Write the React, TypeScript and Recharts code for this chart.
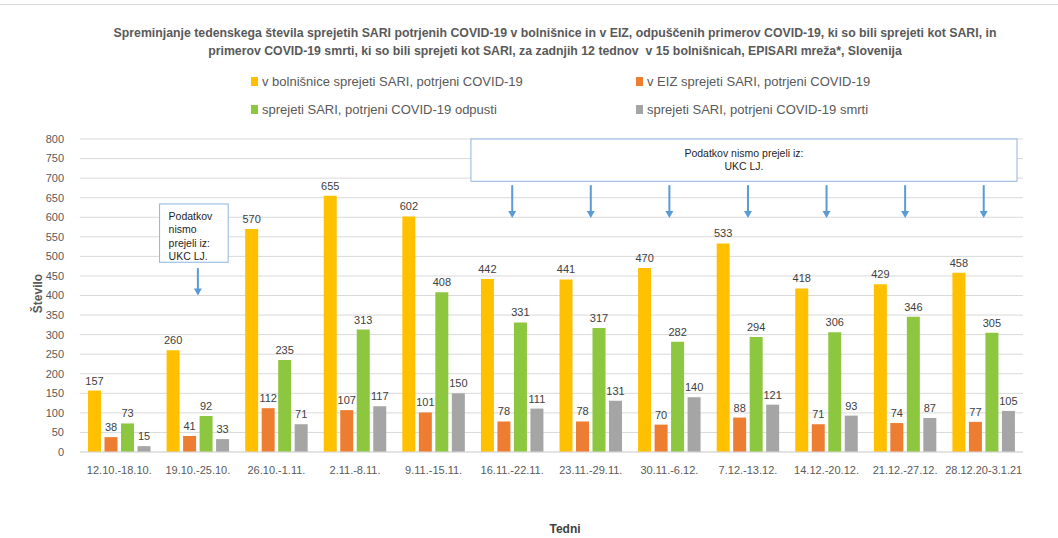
import React from 'react';
import {
  BarChart, Bar, XAxis, YAxis, CartesianGrid, LabelList,
  ReferenceArea, ReferenceLine, ReferenceDot,
} from 'recharts';

const categories = [
  '12.10.-18.10.', '19.10.-25.10.', '26.10.-1.11.', '2.11.-8.11.', '9.11.-15.11.',
  '16.11.-22.11.', '23.11.-29.11.', '30.11.-6.12.', '7.12.-13.12.', '14.12.-20.12.',
  '21.12.-27.12.', '28.12.20-3.1.21',
];
const hospitalAdmitted = [157, 260, 570, 655, 602, 442, 441, 470, 533, 418, 429, 458];
const icuAdmitted = [38, 41, 112, 107, 101, 78, 78, 70, 88, 71, 74, 77];
const discharged = [73, 92, 235, 313, 408, 331, 317, 282, 294, 306, 346, 305];
const deaths = [15, 33, 71, 117, 150, 111, 131, 140, 121, 93, 87, 105];
const yTicks = [0, 50, 100, 150, 200, 250, 300, 350, 400, 450, 500, 550, 600, 650, 700, 750, 800];

const seriesNames = [
  'v bolnišnice sprejeti SARI, potrjeni COVID-19',
  'v EIZ sprejeti SARI, potrjeni COVID-19',
  'sprejeti SARI, potrjeni COVID-19 odpusti',
  'sprejeti SARI, potrjeni COVID-19 smrti',
];
const colors = ['#FFC000', '#ED7D31', '#8DC63F', '#A5A5A5'];
const keys = ['hosp', 'icu', 'disch', 'death'];

const data = categories.map((c, i) => ({
  week: c,
  hosp: hospitalAdmitted[i],
  icu: icuAdmitted[i],
  disch: discharged[i],
  death: deaths[i],
}));

const missingWeeksSingle = [categories[1]];
const missingWeeksRange = categories.slice(5);

const FONT = "'Liberation Sans', Arial, sans-serif";
const ARROW = '#5B9BD5';

const ArrowHead = (props: any) => {
  const { cx, cy } = props;
  return <path d={`M${cx - 4},${cy - 7} L${cx + 4},${cy - 7} L${cx},${cy} Z`} fill={ARROW} />;
};

const SmallBox = (props: any) => {
  const { x, y, width, height } = props;
  const w = width - 10;
  return (
    <g>
      <rect x={x + 1} y={y} width={w} height={height} fill="#fff" stroke="#8EB4E3" strokeWidth={1} />
      {['Podatkov', 'nismo', 'prejeli iz:', 'UKC LJ.'].map((t, i) => (
        <text key={i} x={x + 10} y={y + 16 + i * 13.3} fontSize={10.5} fill="#262626" fontFamily={FONT}>{t}</text>
      ))}
    </g>
  );
};

const WideBox = (props: any) => {
  const { x, y, width, height } = props;
  const cx = x + width / 2 - 4;
  return (
    <g>
      <rect x={x - 2} y={y} width={width - 4} height={height} fill="#fff" stroke="#8EB4E3" strokeWidth={1} />
      <text x={cx} y={y + 18} textAnchor="middle" fontSize={10.5} fill="#262626" fontFamily={FONT}>Podatkov nismo prejeli iz:</text>
      <text x={cx} y={y + 31} textAnchor="middle" fontSize={10.5} fill="#262626" fontFamily={FONT}>UKC LJ.</text>
    </g>
  );
};

const legendPos = [
  { left: 251, top: 81 },
  { left: 636, top: 81 },
  { left: 251, top: 109 },
  { left: 636, top: 109 },
];

const YLabel = (props: any) => {
  const { viewBox } = props;
  const cx = 38;
  const cy = viewBox.y + viewBox.height / 2 - 2;
  return (
    <text x={cx} y={cy} transform={`rotate(-90 ${cx} ${cy})`} textAnchor="middle" dominantBaseline="central" fontSize={12} fontWeight="bold" fill="#595959" fontFamily={FONT}>Število</text>
  );
};

const XLabel = () => (
  <text x={565} y={529} textAnchor="middle" dominantBaseline="central" fontSize={12} fontWeight="bold" fill="#404040" fontFamily={FONT}>Tedni</text>
);

export default function App() {
  return (
    <div style={{ position: 'absolute', left: 0, top: 0, width: 1058, height: 538, background: '#fff', fontFamily: FONT }}>
      <div style={{ position: 'absolute', left: 0, top: 4, width: 1058, height: 1, background: '#D9D9D9' }} />
      <BarChart
        width={1058}
        height={538}
        data={data}
        margin={{ top: 139, right: 35, bottom: 56, left: 20 }}
        barCategoryGap="10%"
        barGap={3.5}
        barSize={13}
      >
        <CartesianGrid vertical={false} stroke="#D9D9D9" />
        <XAxis
          dataKey="week"
          tickLine={false}
          axisLine={{ stroke: '#D9D9D9' }}
          tick={{ fontSize: 11, fill: '#595959', fontFamily: FONT }}
          tickMargin={8}
          interval={0}
          label={<XLabel />}
        />
        <YAxis
          width={60}
          domain={[0, 800]}
          ticks={yTicks}
          interval={0}
          tickLine={false}
          axisLine={false}
          tick={{ fontSize: 11, fill: '#595959', fontFamily: FONT }}
          tickMargin={10}
          label={<YLabel />}
        />
        {keys.map((k, i) => (
          <Bar key={k} dataKey={k} name={seriesNames[i]} fill={colors[i]} isAnimationActive={false}>
            <LabelList dataKey={k} position="top" offset={6} fontSize={11} fill="#404040" fontFamily={FONT} />
          </Bar>
        ))}
        {missingWeeksSingle.map((c) => (
          <ReferenceArea key={'a' + c} x1={c} x2={c} y1={485} y2={634} shape={<SmallBox />} ifOverflow="visible" />
        ))}
        <ReferenceArea x1={missingWeeksRange[0]} x2={missingWeeksRange[missingWeeksRange.length - 1]} y1={692} y2={800} shape={<WideBox />} ifOverflow="visible" />
        {missingWeeksSingle.map((c) => (
          <ReferenceLine key={'l' + c} segment={[{ x: c, y: 470 }, { x: c, y: 412 }]} stroke={ARROW} strokeWidth={2} ifOverflow="visible" />
        ))}
        {missingWeeksSingle.map((c) => (
          <ReferenceDot key={'d' + c} x={c} y={400} shape={<ArrowHead />} ifOverflow="visible" />
        ))}
        {missingWeeksRange.map((c) => (
          <ReferenceLine key={'l' + c} segment={[{ x: c, y: 682 }, { x: c, y: 612 }]} stroke={ARROW} strokeWidth={2} ifOverflow="visible" />
        ))}
        {missingWeeksRange.map((c) => (
          <ReferenceDot key={'d' + c} x={c} y={598} shape={<ArrowHead />} ifOverflow="visible" />
        ))}
      </BarChart>
      <div style={{ position: 'absolute', left: 55, top: 24, width: 1000, textAlign: 'center', fontSize: 12.3, fontWeight: 'bold', color: '#595959', lineHeight: '18px', whiteSpace: 'nowrap' }}>
        Spreminjanje tedenskega števila sprejetih SARI potrjenih COVID-19 v bolnišnice in v EIZ, odpuščenih primerov COVID-19, ki so bili sprejeti kot SARI, in<br />
        primerov COVID-19 smrti, ki so bili sprejeti kot SARI, za zadnjih 12 tednov&nbsp; v 15 bolnišnicah, EPISARI mreža*, Slovenija
      </div>
      {seriesNames.map((n, i) => (
        <div key={i} style={{ position: 'absolute', left: legendPos[i].left, top: legendPos[i].top - 9, height: 18, display: 'flex', alignItems: 'center', whiteSpace: 'nowrap' }}>
          <span style={{ display: 'inline-block', width: 7, height: 9, background: colors[i], marginRight: 4 }} />
          <span style={{ fontSize: 13, color: '#595959', fontFamily: FONT }}>{n}</span>
        </div>
      ))}
    </div>
  );
}
